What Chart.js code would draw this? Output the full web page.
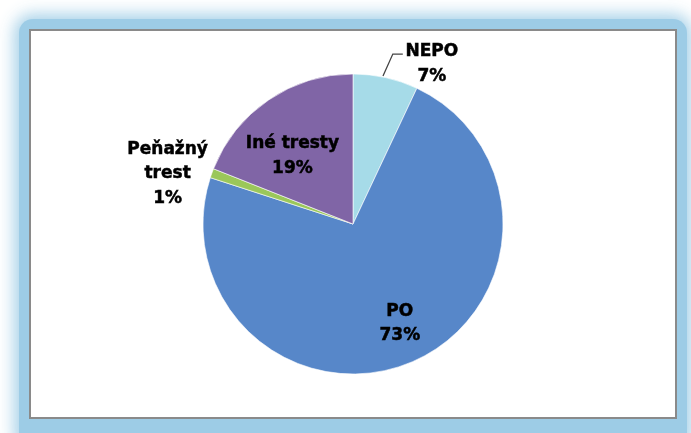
<!DOCTYPE html>
<html>
<head>
<meta charset="utf-8">
<script src="https://cdn.jsdelivr.net/npm/chart.js@4.4.1/dist/chart.umd.min.js"></script>
<style>
  html,body{margin:0;padding:0;background:#fff;width:691px;height:433px;overflow:hidden;}
  .glow{position:absolute;left:19px;top:19px;width:668px;height:430px;background:#9dcce6;border-radius:14px;
        box-shadow:0 0 16px 5px rgba(157,204,230,0.9);}
  .box{position:absolute;left:29px;top:29px;width:644px;height:386px;background:#fff;border:2px solid #8a8a8a;}
  canvas{position:absolute;left:0;top:0;}
</style>
</head>
<body>
<div class="glow"></div>
<div class="box"><canvas id="pie" width="644" height="386"></canvas></div>
<script>
// kategórie a podiely (%)
const categories = ['NEPO', 'PO', 'Peňažný trest', 'Iné tresty'];
const labelLines = [['NEPO','7%'], ['PO','73%'], ['Peňažný','trest','1%'], ['Iné tresty','19%']];
const values = [7, 73, 1, 19];
const colors = ['#a6dbe8', '#5787c9', '#9bc75a', '#8065a6'];

// umiestnenie popisov: násobok polomeru, posun uhla (stupne), odtlačok čiary
const place = [
  { f:1.19, da:13.6, leader:true },
  { f:0.733, da:-1.8 },
  { f:1.28, da:-4.7 },
  { f:0.607, da:-7.5 }
];

const pieLabels = {
  id:'pieLabels',
  afterDatasetsDraw(chart){
    const ctx = chart.ctx;
    const arcs = chart.getDatasetMeta(0).data;
    ctx.save();
    ctx.font = 'bold 17px "DejaVu Sans"';
    ctx.fillStyle = '#000';
    ctx.strokeStyle = '#000';
    ctx.lineWidth = 0.5;
    ctx.textAlign = 'center';
    ctx.textBaseline = 'middle';
    arcs.forEach((a, i)=>{
      const mid = (a.startAngle + a.endAngle)/2;
      const p = place[i];
      const ang = mid + p.da*Math.PI/180;
      const x = a.x + Math.cos(ang)*a.outerRadius*p.f;
      const y = a.y + Math.sin(ang)*a.outerRadius*p.f;
      const lines = labelLines[i];
      const lh = 24.5;
      lines.forEach((t, k)=>{
        const ty = y + (k - (lines.length-1)/2)*lh;
        ctx.fillText(t, x, ty);
        ctx.strokeText(t, x, ty);
      });
      if(p.leader){
        const sx = a.x + Math.cos(mid - 0.02)*(a.outerRadius+1);
        const sy = a.y + Math.sin(mid - 0.02)*(a.outerRadius+1);
        const ky = y - lh/2 + 2.5;
        ctx.save();
        ctx.strokeStyle = '#444';
        ctx.lineWidth = 1.3;
        ctx.beginPath();
        ctx.moveTo(sx, sy);
        ctx.lineTo(x - 39, ky);
        ctx.lineTo(x - 29, ky);
        ctx.stroke();
        ctx.restore();
      }
    });
    ctx.restore();
  }
};

new Chart(document.getElementById('pie'), {
  type:'pie',
  data:{
    labels: categories,
    datasets:[{ data: values, backgroundColor: colors, borderColor:'#ffffff', borderWidth:0.6 }]
  },
  options:{
    responsive:false,
    animation:false,
    radius:150,
    plugins:{ legend:{ display:false }, tooltip:{ enabled:false } }
  },
  plugins:[pieLabels]
});
</script>
</body>
</html>
